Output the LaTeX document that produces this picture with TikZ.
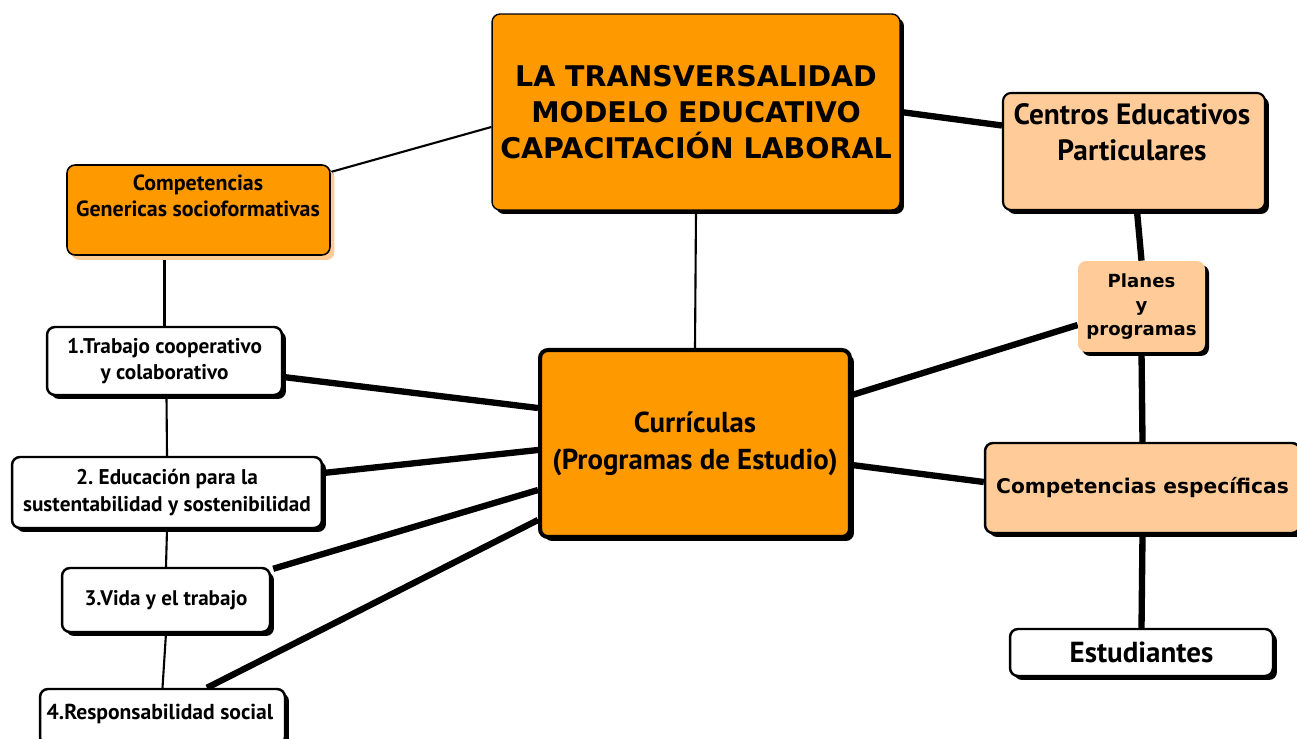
\documentclass[tikz,border=0pt]{standalone}
\usepackage{fontspec}
\usetikzlibrary{calc,shadows,backgrounds}
\newfontfamily\ptf{PT Sans}
\newfontfamily\djv{DejaVu Sans}
\definecolor{orng}{RGB}{255,153,0}
\definecolor{peach}{RGB}{255,204,153}
\frenchspacing
\tikzset{
  bx/.style={draw=black, rounded corners=0.16cm, inner sep=0pt, align=center,
    drop shadow={shadow xshift=0.08cm, shadow yshift=-0.08cm, opacity=1, fill=black}},
  thin/.style={line width=1.2pt},
  thick/.style={line width=3.6pt},
  lbl/.style={align=center, inner sep=0pt},
}
\begin{document}
\begin{tikzpicture}[x=0.02cm,y=-0.02cm]
\useasboundingbox (0,0) rectangle (1297,739);
% boxes
\node[bx, fill=orng, line width=0.8pt, minimum width=8.16cm, minimum height=3.92cm,
  font=\djv\bfseries\fontsize{16.2}{20.5}\selectfont] (t) at (696,112)
  {LA TRANSVERSALIDAD\\MODELO EDUCATIVO\\CAPACITACIÓN LABORAL};
\node[bx, fill=orng, line width=0.9pt, minimum width=5.26cm, minimum height=1.8cm,
  drop shadow={shadow xshift=0.09cm, shadow yshift=-0.1cm, opacity=1, fill=peach}] (cg) at (198.5,210) {};
\node[lbl, font=\ptf\bfseries\fontsize{12.5}{14.8}\selectfont] (cgt) at (198,196) {Competencias\\Genericas socioformativas};
\node[bx, fill=white, line width=1.4pt, minimum width=4.7cm, minimum height=1.36cm,
  font=\ptf\bfseries\fontsize{12.1}{14.8}\selectfont] (tr) at (164.5,361) {1.Trabajo cooperativo\\y colaborativo};
\node[bx, fill=white, line width=1.4pt, minimum width=6.2cm, minimum height=1.42cm,
  font=\ptf\bfseries\fontsize{12.1}{15.2}\selectfont] (ed) at (167,492.5) {2. Educación para la\\sustentabilidad y sostenibilidad};
\node[bx, fill=white, line width=1.4pt, minimum width=4.16cm, minimum height=1.28cm,
  font=\ptf\bfseries\fontsize{12}{14.8}\selectfont] (vi) at (166,600) {3.Vida y el trabajo};
\node[bx, fill=white, line width=1.4pt, minimum width=4.9cm, minimum height=1.12cm] (rs) at (162.5,717) {};
\node[lbl, font=\ptf\bfseries\fontsize{12.3}{14.8}\selectfont] (rst) at (160,714) {4.Responsabilidad social};
\node[bx, fill=orng, line width=2.3pt, minimum width=6.2cm, minimum height=3.74cm,
  font=\ptf\bfseries\fontsize{16.4}{21}\selectfont] (cur) at (695,443.5) {Currículas\\(Programas de Estudio)};
\node[bx, fill=peach, line width=1.2pt, minimum width=5.24cm, minimum height=2.34cm] (ce) at (1134,151.5) {};
\node[lbl, font=\ptf\bfseries\fontsize{16.7}{20.5}\selectfont] (cet) at (1132,132) {Centros Educativos\\Particulares};
\node[bx, fill=peach, draw=none, minimum width=2.54cm, minimum height=1.82cm,
  font=\djv\bfseries\fontsize{10.3}{13.7}\selectfont] (pl) at (1141.5,306.5) {Planes\\y\\programas};
\node[bx, fill=peach, line width=1.4pt, minimum width=6.3cm, minimum height=1.8cm,
  font=\djv\bfseries\fontsize{11.5}{13}\selectfont] (cs) at (1142.5,488) {Competencias específicas};
\node[bx, fill=white, line width=1.4pt, minimum width=5.26cm, minimum height=0.94cm,
  font=\ptf\bfseries\fontsize{16.5}{17}\selectfont] (es) at (1141.5,652.5) {Estudiantes};
% connectors
\begin{scope}[on background layer]
\fill[white] (0,0) rectangle (1297,739);
\draw[thin] ($(t.west)+(0,15)$) -- ($(cg.east)+(0,-38)$);
\draw[thick] (t.east) -- ($(ce.west)+(0,-26)$);
\draw[thin] (t.south) -- (cur.north);
\draw[thin] ($(cg.south)+(-34,0)$) -- (tr.north);
\draw[thin] ($(tr.south)+(2,0)$) -- (ed.north);
\draw[thin] (ed.south) -- (vi.north);
\draw[thin] (vi.south) -- (rs.north);
\draw[thick] ($(tr.east)+(0,16)$) -- ($(cur.west)+(0,-35.5)$);
\draw[thick] ($(ed.east)+(0,-19.5)$) -- ($(cur.west)+(0,6.5)$);
\draw[thick] ($(vi.north east)+(2,2)$) -- ($(cur.west)+(0,46.5)$);
\draw[thick] ($(rs.north)+(44.5,0)$) -- ($(cur.west)+(0,76.5)$);
\draw[thick] ($(ce.south)+(3,0)$) -- (pl.north);
\draw[thick] ($(pl.west)+(0,18.5)$) -- ($(cur.east)+(0,-48.5)$);
\draw[thick] (pl.south) -- (cs.north);
\draw[thick] ($(cur.east)+(0,21.5)$) -- ($(cs.west)+(0,-6)$);
\draw[thick] (cs.south) -- (es.north);
\end{scope}
\end{tikzpicture}
\end{document}
